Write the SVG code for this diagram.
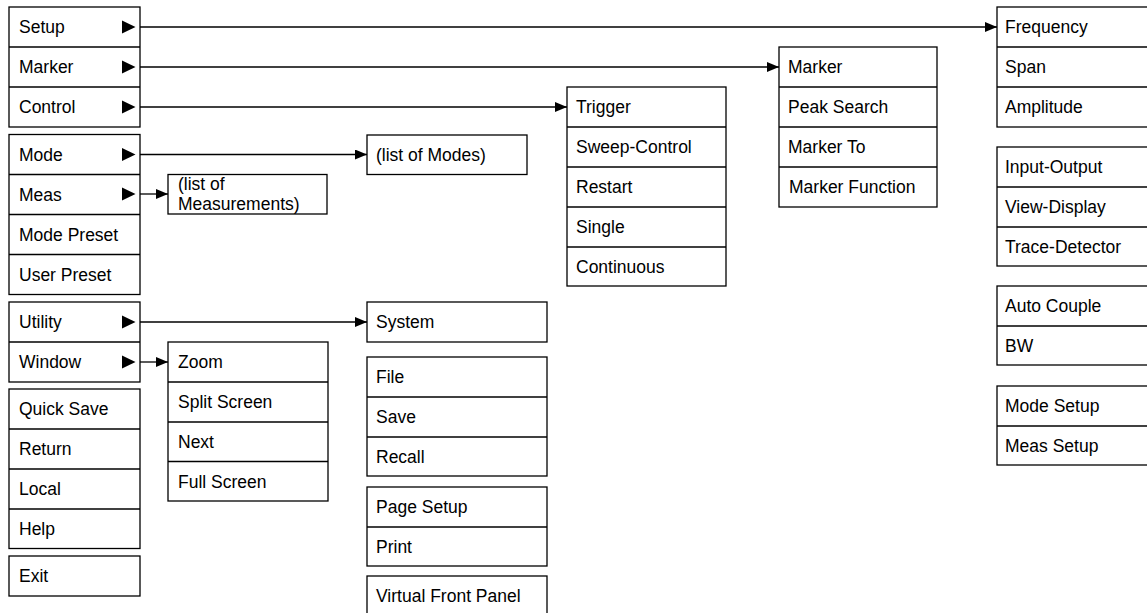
<svg xmlns="http://www.w3.org/2000/svg" width="1147" height="613" viewBox="0 0 1147 613">
<style>
.box{fill:#fff;stroke:#000;stroke-width:1.3}
.sep{stroke:#000;stroke-width:1.3}
.t{font-family:"Liberation Sans",Arial,sans-serif;font-size:17.5px;fill:#000}
.tri{fill:#000}
.conn{stroke:#000;stroke-width:1.3;fill:none}
</style>
<defs>
<marker id="ah" markerUnits="userSpaceOnUse" markerWidth="12" markerHeight="10" refX="12" refY="5" orient="auto">
<path d="M0,0 L12,5 L0,10 z" fill="#000"/>
</marker>
</defs>
<rect width="1147" height="613" fill="#fff"/>

<g id="connectors">
<line class="conn" x1="140" y1="27" x2="997" y2="27" marker-end="url(#ah)"/>
<line class="conn" x1="140" y1="67" x2="779" y2="67" marker-end="url(#ah)"/>
<line class="conn" x1="140" y1="107" x2="567" y2="107" marker-end="url(#ah)"/>
<line class="conn" x1="140" y1="154.5" x2="367" y2="154.5" marker-end="url(#ah)"/>
<line class="conn" x1="140" y1="194" x2="168" y2="194" marker-end="url(#ah)"/>
<line class="conn" x1="140" y1="322" x2="367" y2="322" marker-end="url(#ah)"/>
<line class="conn" x1="140" y1="362" x2="168" y2="362" marker-end="url(#ah)"/>
</g>

<g id="menu-main">
<rect class="box" x="9" y="7" width="131" height="120"/>
<line class="sep" x1="9" y1="47" x2="140" y2="47"/>
<line class="sep" x1="9" y1="87" x2="140" y2="87"/>
<text class="t" x="19" y="33">Setup</text>
<text class="t" x="19" y="73">Marker</text>
<text class="t" x="19" y="113">Control</text>
<polygon class="tri" points="122,20.5 135.5,27 122,33.5"/>
<polygon class="tri" points="122,60.5 135.5,67 122,73.5"/>
<polygon class="tri" points="122,100.5 135.5,107 122,113.5"/>
</g>

<g id="menu-mode">
<rect class="box" x="9" y="134.5" width="131" height="160"/>
<line class="sep" x1="9" y1="174.5" x2="140" y2="174.5"/>
<line class="sep" x1="9" y1="214.5" x2="140" y2="214.5"/>
<line class="sep" x1="9" y1="254.5" x2="140" y2="254.5"/>
<text class="t" x="19" y="160.5">Mode</text>
<text class="t" x="19" y="200.5">Meas</text>
<text class="t" x="19" y="240.5">Mode Preset</text>
<text class="t" x="19" y="280.5">User Preset</text>
<polygon class="tri" points="122,148 135.5,154.5 122,161"/>
<polygon class="tri" points="122,187.5 135.5,194 122,200.5"/>
</g>

<g id="menu-utility">
<rect class="box" x="9" y="302" width="131" height="80"/>
<line class="sep" x1="9" y1="342" x2="140" y2="342"/>
<text class="t" x="19" y="328">Utility</text>
<text class="t" x="19" y="368">Window</text>
<polygon class="tri" points="122,315.5 135.5,322 122,328.5"/>
<polygon class="tri" points="122,355.5 135.5,362 122,368.5"/>
</g>

<g id="menu-misc">
<rect class="box" x="9" y="389" width="131" height="159.5"/>
<line class="sep" x1="9" y1="429" x2="140" y2="429"/>
<line class="sep" x1="9" y1="469" x2="140" y2="469"/>
<line class="sep" x1="9" y1="509" x2="140" y2="509"/>
<text class="t" x="19" y="415">Quick Save</text>
<text class="t" x="19" y="455">Return</text>
<text class="t" x="19" y="495">Local</text>
<text class="t" x="19" y="535">Help</text>
</g>

<g id="menu-exit">
<rect class="box" x="9" y="556" width="131" height="40"/>
<text class="t" x="19" y="582">Exit</text>
</g>

<g id="list-modes">
<rect class="box" x="367" y="135" width="160" height="39.5"/>
<text class="t" x="376" y="160.5">(list of Modes)</text>
</g>

<g id="list-measurements">
<rect class="box" x="168" y="174.5" width="159" height="39.5"/>
<text class="t" x="178" y="189.5">(list of</text>
<text class="t" x="178" y="209.5">Measurements)</text>
</g>

<g id="menu-system">
<rect class="box" x="367" y="302" width="180" height="40"/>
<text class="t" x="376" y="328">System</text>
</g>

<g id="menu-window">
<rect class="box" x="168" y="342" width="160" height="159"/>
<line class="sep" x1="168" y1="382" x2="328" y2="382"/>
<line class="sep" x1="168" y1="422" x2="328" y2="422"/>
<line class="sep" x1="168" y1="461.5" x2="328" y2="461.5"/>
<text class="t" x="178" y="368">Zoom</text>
<text class="t" x="178" y="408">Split Screen</text>
<text class="t" x="178" y="448">Next</text>
<text class="t" x="178" y="487.5">Full Screen</text>
</g>

<g id="menu-file">
<rect class="box" x="367" y="357" width="180" height="119"/>
<line class="sep" x1="367" y1="397" x2="547" y2="397"/>
<line class="sep" x1="367" y1="437" x2="547" y2="437"/>
<text class="t" x="376" y="383">File</text>
<text class="t" x="376" y="423">Save</text>
<text class="t" x="376" y="463">Recall</text>
</g>

<g id="menu-print">
<rect class="box" x="367" y="487" width="180" height="79"/>
<line class="sep" x1="367" y1="527" x2="547" y2="527"/>
<text class="t" x="376" y="513">Page Setup</text>
<text class="t" x="376" y="553">Print</text>
</g>

<g id="menu-vfp">
<rect class="box" x="367" y="576" width="180" height="42"/>
<text class="t" x="376" y="602">Virtual Front Panel</text>
</g>

<g id="menu-control">
<rect class="box" x="567" y="87" width="159" height="199"/>
<line class="sep" x1="567" y1="127" x2="726" y2="127"/>
<line class="sep" x1="567" y1="167" x2="726" y2="167"/>
<line class="sep" x1="567" y1="207" x2="726" y2="207"/>
<line class="sep" x1="567" y1="247" x2="726" y2="247"/>
<text class="t" x="576" y="113">Trigger</text>
<text class="t" x="576" y="153">Sweep-Control</text>
<text class="t" x="576" y="193">Restart</text>
<text class="t" x="576" y="233">Single</text>
<text class="t" x="576" y="273">Continuous</text>
</g>

<g id="menu-marker">
<rect class="box" x="779" y="47" width="158" height="160"/>
<line class="sep" x1="779" y1="87" x2="937" y2="87"/>
<line class="sep" x1="779" y1="127" x2="937" y2="127"/>
<line class="sep" x1="779" y1="167" x2="937" y2="167"/>
<text class="t" x="788" y="73">Marker</text>
<text class="t" x="788" y="113">Peak Search</text>
<text class="t" x="788" y="153">Marker To</text>
<text class="t" x="789" y="193">Marker Function</text>
</g>

<g id="menu-frequency">
<rect class="box" x="997" y="7" width="160" height="120"/>
<line class="sep" x1="997" y1="47" x2="1150" y2="47"/>
<line class="sep" x1="997" y1="87" x2="1150" y2="87"/>
<text class="t" x="1005" y="33">Frequency</text>
<text class="t" x="1005" y="73">Span</text>
<text class="t" x="1005" y="113">Amplitude</text>
</g>

<g id="menu-io">
<rect class="box" x="997" y="147" width="160" height="119"/>
<line class="sep" x1="997" y1="187" x2="1150" y2="187"/>
<line class="sep" x1="997" y1="227" x2="1150" y2="227"/>
<text class="t" x="1005" y="173">Input-Output</text>
<text class="t" x="1005" y="213">View-Display</text>
<text class="t" x="1005" y="253">Trace-Detector</text>
</g>

<g id="menu-bw">
<rect class="box" x="997" y="286" width="160" height="79"/>
<line class="sep" x1="997" y1="326" x2="1150" y2="326"/>
<text class="t" x="1005" y="312">Auto Couple</text>
<text class="t" x="1005" y="352">BW</text>
</g>

<g id="menu-setup">
<rect class="box" x="997" y="386" width="160" height="79"/>
<line class="sep" x1="997" y1="426" x2="1150" y2="426"/>
<text class="t" x="1005" y="412">Mode Setup</text>
<text class="t" x="1005" y="452">Meas Setup</text>
</g>
</svg>
